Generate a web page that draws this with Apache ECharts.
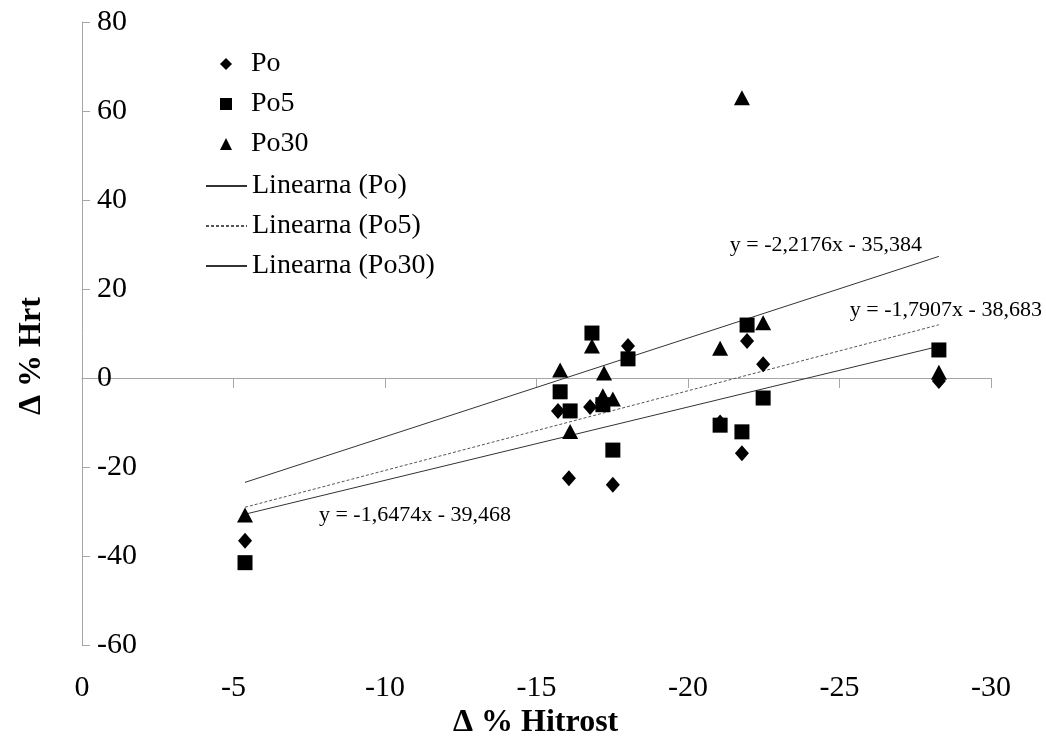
<!DOCTYPE html>
<html>
<head>
<meta charset="utf-8">
<script src="https://cdn.jsdelivr.net/npm/echarts@6/dist/echarts.min.js"></script>
<style>
  html, body { margin: 0; padding: 0; background: #fff; }
  #main { width: 1046px; height: 739px; }
</style>
</head>
<body>
<div id="main"></div>
<script>
// Measurements: change in speed (x) against change in Hrt (y), three groups
const poData = [
  [-5.38, -36.6], [-15.71, -7.4], [-16.07, -22.5], [-16.77, -6.5], [-17.52, -24.0],
  [-18.02, 7.2], [-21.06, -10.0], [-21.78, -16.9], [-21.95, 8.3], [-22.48, 3.1], [-28.28, -0.7]
];
const po5Data = [
  [-5.38, -41.5], [-15.78, -3.1], [-16.11, -7.4], [-16.83, 10.1], [-17.19, -6.0], [-17.52, -16.2],
  [-18.02, 4.3], [-21.06, -10.6], [-21.78, -12.1], [-21.95, 11.9], [-22.48, -4.5], [-28.28, 6.3]
];
const po30Data = [
  [-5.38, -30.8], [-15.78, 1.8], [-16.11, -12.0], [-16.83, 7.2], [-17.23, 1.1], [-17.19, -4.0],
  [-17.52, -4.7], [-21.06, 6.7], [-21.78, 63.0], [-22.48, 12.4], [-28.28, 1.3]
];

// Linear trend coefficients (slope, intercept) for Po, Po5, Po30
const trendNames = ['Linearna (Po)', 'Linearna (Po5)', 'Linearna (Po30)'];
const trendSlopes = [-1.6474, -1.7907, -2.2176];
const trendIntercepts = [-39.468, -38.683, -35.384];
const trendEquations = ['y = -1,6474x - 39,468', 'y = -1,7907x - 38,683', 'y = -2,2176x - 35,384'];
const trendXRange = [-5.38, -28.28];

const serif = '"Liberation Serif", "Times New Roman", serif';
const axisGray = '#a6a6a6';

function trendLine(i) {
  return trendXRange.map(x => [x, trendSlopes[i] * x + trendIntercepts[i]]);
}

// anchor points (in data units) for the equation captions
const eqAnchors = [[-10.99, -30.8], [-28.51, 15.3], [-24.55, 29.9]];

const scatterBase = {
  type: 'scatter',
  xAxisIndex: 0,
  itemStyle: { color: '#000', opacity: 1 },
  emphasis: { disabled: true },
  z: 5
};

const trendSeries = trendNames.map((name, i) => ({
  name: name,
  type: 'line',
  xAxisIndex: 0,
  data: trendLine(i),
  symbol: 'none',
  silent: true,
  lineStyle: {
    color: i === 1 ? '#555' : '#333',
    width: 1,
    type: i === 1 ? [3, 2] : 'solid'
  },
  itemStyle: { color: '#333' },
  markPoint: {
    symbol: 'circle',
    symbolSize: 0,
    silent: true,
    label: {
      show: true,
      position: 'inside',
      formatter: trendEquations[i],
      color: '#000',
      fontFamily: serif,
      fontSize: 22
    },
    data: [{ coord: eqAnchors[i] }]
  },
  z: 3
}));

const legendText = { fontSize: 28, lineHeight: 28, color: '#000', fontFamily: serif };

const option = {
  animation: false,
  backgroundColor: '#fff',
  textStyle: { fontFamily: serif },
  grid: { left: 82, right: 55, top: 22, bottom: 94 },
  xAxis: [
    {
      type: 'value', min: -30, max: 0, interval: 5, inverse: true,
      axisLine: { show: true, onZero: true, lineStyle: { color: axisGray, width: 1 } },
      axisTick: { show: true, length: 10, lineStyle: { color: axisGray } },
      axisLabel: { show: false },
      splitLine: { show: false }
    },
    {
      type: 'value', min: -30, max: 0, interval: 5, inverse: true, position: 'bottom',
      axisLine: { show: false, onZero: false },
      axisTick: { show: false },
      axisLabel: { color: '#000', fontSize: 30, margin: 28, fontFamily: serif },
      splitLine: { show: false }
    }
  ],
  yAxis: {
    type: 'value', min: -60, max: 80, interval: 20,
    axisLine: { show: true, onZero: false, lineStyle: { color: axisGray, width: 1 } },
    axisTick: { show: true, inside: true, length: 8, lineStyle: { color: axisGray } },
    axisLabel: { inside: true, margin: 15, color: '#000', fontSize: 30, fontFamily: serif },
    splitLine: { show: false }
  },
  legend: [
    {
      // marker entries
      orient: 'vertical',
      left: 220,
      top: 50,
      padding: 0,
      itemWidth: 12,
      itemHeight: 12,
      itemGap: 12,
      selectedMode: false,
      textStyle: Object.assign({ padding: [0, 0, 0, 14] }, legendText),
      data: [
        { name: 'Po', icon: 'diamond' },
        { name: 'Po5', icon: 'rect' },
        { name: 'Po30', icon: 'triangle' }
      ]
    },
    {
      // trend line entries
      orient: 'vertical',
      left: 205,
      top: 172,
      padding: 0,
      itemWidth: 41,
      itemHeight: 12,
      itemGap: 12,
      selectedMode: false,
      textStyle: legendText,
      data: [
        { name: 'Linearna (Po)', itemStyle: { opacity: 0 } },
        { name: 'Linearna (Po5)', itemStyle: { opacity: 0 } },
        { name: 'Linearna (Po30)', itemStyle: { opacity: 0 } }
      ]
    }
  ],
  graphic: [
    {
      type: 'text', left: 453, top: 707,
      style: { text: 'Δ % Hitrost', fontFamily: serif, fontSize: 32, fontWeight: 'bold', fill: '#000' }
    },
    {
      type: 'text', x: 16, y: 415, rotation: Math.PI / 2,
      style: { text: 'Δ % Hrt', fontFamily: serif, fontSize: 32, fontWeight: 'bold', fill: '#000' }
    }
  ],
  series: [
    Object.assign({}, scatterBase, { name: 'Po', data: poData, symbol: 'diamond', symbolSize: [14, 16] }),
    Object.assign({}, scatterBase, { name: 'Po5', data: po5Data, symbol: 'rect', symbolSize: 15 }),
    Object.assign({}, scatterBase, { name: 'Po30', data: po30Data, symbol: 'triangle', symbolSize: [16, 15] })
  ].concat(trendSeries)
};

const chart = echarts.init(document.getElementById('main'), null, { renderer: 'canvas' });
chart.setOption(option);
</script>
</body>
</html>
